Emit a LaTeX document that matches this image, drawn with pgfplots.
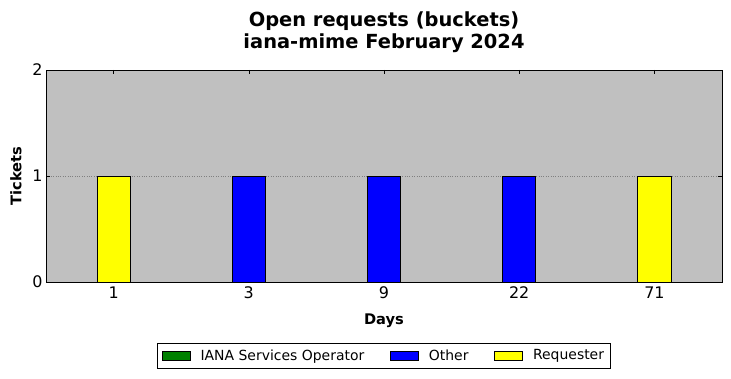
\documentclass[border=0pt]{standalone}
\usepackage{pgfplots}
\pgfplotsset{compat=1.18}
\usepackage{fontspec}
\setmainfont{DejaVu Sans}
\definecolor{bgsilver}{HTML}{C0C0C0}
\definecolor{mplgreen}{HTML}{008000}
\definecolor{mplblue}{HTML}{0000FF}
\definecolor{mplyellow}{HTML}{FFFF00}
\begin{document}
\begin{tikzpicture}[x=1bp,y=1bp]
\useasboundingbox (0,0) rectangle (731,378);
\begin{axis}[
  at={(46bp,96bp)}, anchor=south west,
  scale only axis, width=676bp, height=212bp,
  ybar stacked, bar width=0.245,
  xmin=-0.5, xmax=4.5, ymin=0, ymax=2,
  xtick={0,1,2,3,4}, xticklabels={1,3,9,22,71},
  ytick={0,1,2},
  tick align=inside, major tick length=4bp,
  tick style={black, line width=0.6pt},
  axis line style={black, line width=0.8pt},
  axis background/.style={fill=bgsilver},
  ymajorgrids, grid style={gray, dotted, line width=0.5pt},
  /pgf/number format/assume math mode=true,
  ticklabel style={font=\fontsize{16}{19}\selectfont},
  xticklabel style={yshift=-1bp},
  title={\textbf{Open requests (buckets)}\\\textbf{iana-mime February 2024}},
  title style={align=center, font=\fontsize{19.5}{22}\selectfont, at={(axis description cs:0.5,1.151)}, anchor=center},
  xlabel={\textbf{Days}},
  xlabel style={font=\fontsize{14.7}{17}\selectfont, at={(axis description cs:0.5,-0.184)}, anchor=center},
  ylabel={\textbf{Tickets}},
  ylabel style={font=\fontsize{14.7}{17}\selectfont, at={(axis description cs:-0.0444,0.5)}, anchor=center, rotate=0},
  legend style={at={(0.5,-0.3467)}, anchor=center, legend columns=3, draw=black, line width=0.8pt,
    font=\fontsize{14}{16}\selectfont, inner xsep=4.5pt, inner ysep=4.5pt,
    /tikz/every odd column/.append style={column sep=8bp},
    /tikz/every even column/.append style={column sep=24bp}},
  legend image code/.code={\draw[#1, line width=0.6pt] (0bp,-4.5bp) rectangle (28bp,4.5bp);},
]
\addplot[fill=mplgreen, draw=black, line width=0.8pt] coordinates {(0,0) (1,0) (2,0) (3,0) (4,0)};
\addplot[fill=mplblue, draw=black, line width=0.8pt] coordinates {(0,0) (1,1) (2,1) (3,1) (4,0)};
\addplot[fill=mplyellow, draw=black, line width=0.8pt] coordinates {(0,1) (1,0) (2,0) (3,0) (4,1)};
\legend{IANA Services Operator, Other, Requester}
\end{axis}
\end{tikzpicture}
\end{document}
